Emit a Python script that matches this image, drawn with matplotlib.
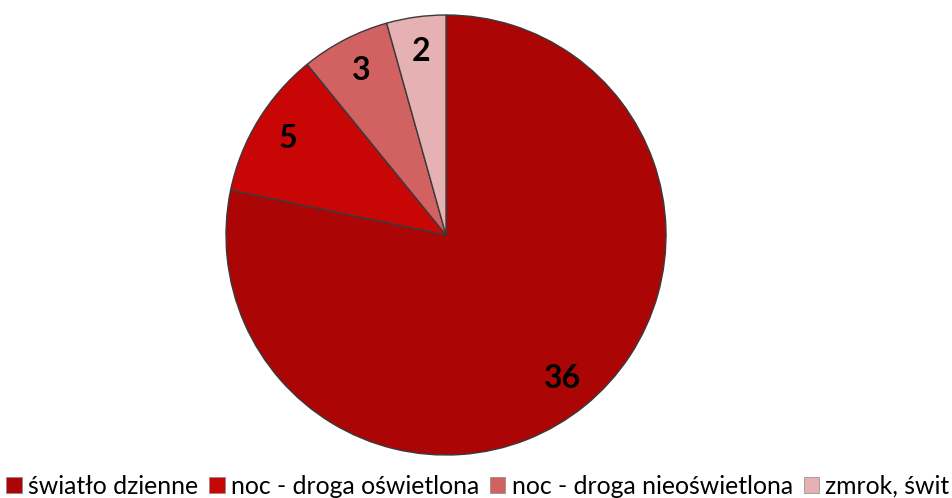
import matplotlib
matplotlib.use("Agg")
import matplotlib.pyplot as plt

categories = ["światło dzienne", "noc - droga oświetlona", "noc - droga nieoświetlona", "zmrok, świt"]
values = [36, 5, 3, 2]
colors = ["#AC0505", "#C80606", "#D26262", "#E6B1B3"]

W, H = 952, 498
fig = plt.figure(figsize=(W / 100, H / 100), dpi=100)
cx, cy, r = 446, 235, 220
ax = fig.add_axes([(cx - r) / W, (H - cy - r) / H, 2 * r / W, 2 * r / H])

wedges, texts, autotexts = ax.pie(
    values, colors=colors, startangle=90, counterclock=False,
    autopct=lambda p: f"{round(p * sum(values) / 100):d}", pctdistance=0.84,
    wedgeprops=dict(edgecolor="#3a3a3a", linewidth=1.0),
    textprops=dict(fontsize=23, fontweight="bold", color="black", family="Lato"),
    radius=1.0,
)
ax.set_xlim(-1, 1)
ax.set_ylim(-1, 1)
ax.set_aspect("equal")
ax.axis("off")

leg = fig.legend(
    wedges, categories, loc="center", bbox_to_anchor=(478 / W, 1 - 486 / H),
    ncol=4, frameon=False, handlelength=0.62, handleheight=0.6,
    handletextpad=0.25, columnspacing=0.45, borderpad=0, borderaxespad=0,
    prop=dict(family="Lato", size=17.8),
)
for h in leg.legend_handles:
    h.set_edgecolor("#888888")
    h.set_linewidth(0.5)

fig.savefig("out.png", dpi=100)
